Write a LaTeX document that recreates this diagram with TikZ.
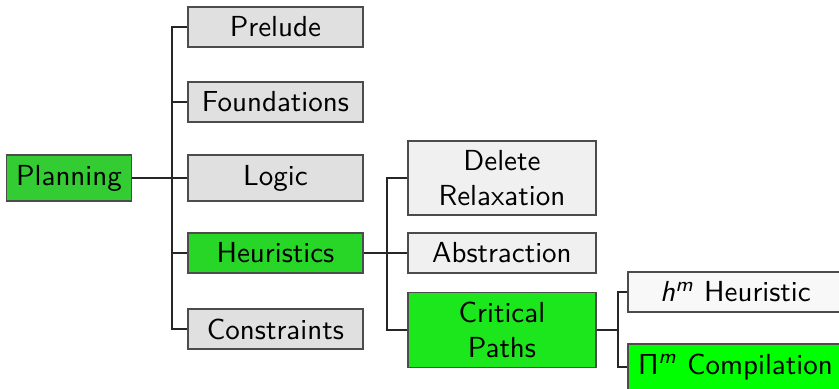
\documentclass[tikz,border=0pt]{standalone}
\usepackage{amsmath}
\usepackage{tikz}
\DeclareMathAlphabet{\mathsfit}{OT1}{cmss}{m}{sl}

\definecolor{rootgreen}{RGB}{51,204,51}
\definecolor{heurgreen}{RGB}{40,214,40}
\definecolor{critgreen}{RGB}{28,230,28}
\definecolor{compgreen}{RGB}{0,255,0}
\definecolor{boxone}{RGB}{224,224,224}
\definecolor{boxtwo}{RGB}{240,240,240}
\definecolor{boxthree}{RGB}{248,248,248}

\begin{document}
\begin{tikzpicture}[x=0.345pt, y=-0.345pt,
                nodes={draw=black!70, line width=0.6pt, font=\sffamily, align=center},
                lvlone/.style={anchor=west, minimum width=60.4pt, fill=boxone},
                lvltwo/.style={anchor=west, minimum width=64.9pt, fill=boxtwo},
                lvlthree/.style={anchor=west, minimum width=74.2pt, fill=boxthree},
                link/.style={draw=black!85, line width=0.6pt}]
            \useasboundingbox (0,0) rectangle (839,389);

            \node [fill=rootgreen] (planning) at (69,178) {Planning};

            \node [lvlone] (prelude) at (187, 27) {Prelude};
            \node [lvlone] (found)   at (187,102) {Foundations};
            \node [lvlone] (logic)   at (187,178) {Logic};
            \node [lvlone, fill=heurgreen] (heur) at (187,253) {Heuristics};
            \node [lvlone] (constr)  at (187,329) {Constraints};

            \node [lvltwo] (delrel) at (407,178) {Delete\\Relaxation};
            \node [lvltwo] (abstr)  at (407,253) {Abstraction};
            \node [lvltwo, fill=critgreen] (crit) at (407,330) {Critical\\Paths};

            \node [lvlthree] (hm)  at (627,292) {$\mathsfit{h}^{\mathsfit{m}}$ Heuristic};
            \node [lvlthree, fill=compgreen] (pim) at (627,367) {$\mathsf{\Pi}^{\mathsfit{m}}$ Compilation};

            \coordinate (bone)   at (172,178);
            \coordinate (btwo)   at (387,253);
            \coordinate (bthree) at (618,330);

            \draw [link] (planning) -- (bone);
            \foreach \n in {prelude,found,logic,heur,constr}
                \draw [link] (bone) |- (\n.west);

            \draw [link] (heur) -- (btwo);
            \foreach \n in {delrel,abstr,crit}
                \draw [link] (btwo) |- (\n.west);

            \draw [link] (crit) -- (bthree);
            \foreach \n in {hm,pim}
                \draw [link] (bthree) |- (\n.west);
        \end{tikzpicture}
\end{document}
